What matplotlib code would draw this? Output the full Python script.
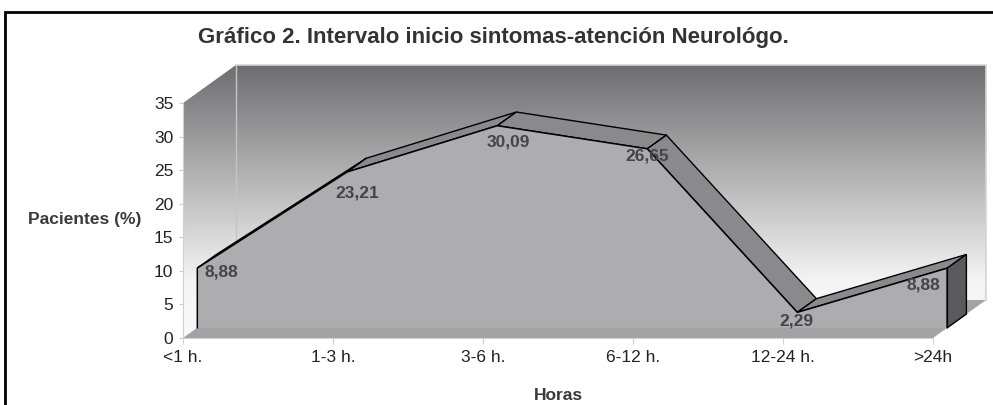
import numpy as np
import matplotlib.pyplot as plt
from matplotlib.patches import Polygon, Rectangle
from matplotlib.colors import LinearSegmentedColormap

# datos del gráfico
categorias = ['<1 h.', '1-3 h.', '3-6 h.', '6-12 h.', '12-24 h.', '>24h']
pacientes = [8.88, 23.21, 30.09, 26.65, 2.29, 8.88]
y_ticks = [0, 5, 10, 15, 20, 25, 30, 35]

# desplazamiento de las etiquetas respecto al punto (puntos tipográficos)
desp_etiquetas = [(17, -3), (7, -15), (8, -12), (0, -5), (-1, -6), (-17, -12)]

plt.rcParams['font.family'] = ['Liberation Sans', 'DejaVu Sans']

# profundidad de la perspectiva 3D en unidades de datos
DX = 53 / 150
DY = 38 * 35 / 235
F0, F1 = 0.27, 0.63   # cara frontal / trasera de la cinta

fig = plt.figure(figsize=(9.93, 4.05), dpi=100)
ax = fig.add_axes([183 / 993, 67 / 405, 750 / 993, 235 / 405])
n = len(categorias)
xs = np.arange(n)
xmax = n - 1
ymax = y_ticks[-1]
ax.set_xlim(0, xmax)
ax.set_ylim(0, ymax)
ax.set_facecolor('none')

# paredes con degradado
cmap = LinearSegmentedColormap.from_list(
    'pared', [(0, '#fafafa'), (0.21, '#f4f4f4'), (1, '#6e6e70')])
grad = np.linspace(0, 1, 256).reshape(-1, 1)
im = ax.imshow(grad, cmap=cmap, origin='lower', aspect='auto',
               extent=(0, xmax + DX, 0, ymax + DY), zorder=0)
paredes = Polygon([(0, 0), (0, ymax), (DX, ymax + DY), (xmax + DX, ymax + DY),
                   (xmax + DX, DY), (xmax, 0)], transform=ax.transData)
im.set_clip_path(paredes)
im.set_clip_box(fig.bbox)

ax.plot([DX, DX], [DY, ymax + DY], color='#c4c4c4', lw=1, clip_on=False, zorder=1)
ax.plot([DX, xmax + DX, xmax + DX], [ymax + DY, ymax + DY, DY],
        color='#d4d4d4', lw=1.2, clip_on=False, zorder=1)

# suelo
ax.add_patch(Polygon([(0, 0), (xmax, 0), (xmax + DX, DY), (DX, DY)],
                     fc='#a3a3a3', ec='none', clip_on=False, zorder=2))

# superficie superior de la cinta
for i in range(n - 1):
    quad = [(xs[i] + F0 * DX, pacientes[i] + F0 * DY),
            (xs[i + 1] + F0 * DX, pacientes[i + 1] + F0 * DY),
            (xs[i + 1] + F1 * DX, pacientes[i + 1] + F1 * DY),
            (xs[i] + F1 * DX, pacientes[i] + F1 * DY)]
    ax.add_patch(Polygon(quad, fc='#8a8a8c', ec='black', lw=1,
                         clip_on=False, zorder=3))

# cara frontal del área
fx = xs + F0 * DX
fy = np.array(pacientes) + F0 * DY
frente = [(fx[0], F0 * DY)] + list(zip(fx, fy)) + [(fx[-1], F0 * DY)]
ax.add_patch(Polygon(frente, fc='#adadb0', ec='none', clip_on=False, zorder=4))
ax.plot([fx[0]] + list(fx) + [fx[-1]], [F0 * DY] + list(fy) + [F0 * DY],
        color='black', lw=1.1, clip_on=False, zorder=5)

# cara lateral derecha
lado = [(xmax + F0 * DX, F0 * DY), (xmax + F0 * DX, pacientes[-1] + F0 * DY),
        (xmax + F1 * DX, pacientes[-1] + F1 * DY), (xmax + F1 * DX, F1 * DY)]
ax.add_patch(Polygon(lado, fc='#5b5b5d', ec='black', lw=1, clip_on=False, zorder=4))

# etiquetas de datos
for x, y, v, d in zip(fx, fy, pacientes, desp_etiquetas):
    ax.annotate(f'{v:.2f}'.replace('.', ','), xy=(x, y), xytext=d,
                textcoords='offset points', ha='center', va='center',
                fontsize=12.5, fontweight='bold', color='#454545',
                zorder=6, annotation_clip=False)

# ejes
for s in ['top', 'right']:
    ax.spines[s].set_visible(False)
ax.spines['left'].set_color('#d0d0d0')
ax.spines['bottom'].set_color('#d0d0d0')
ax.set_xticks(xs, categorias)
ax.set_yticks(y_ticks)
ax.tick_params(axis='y', length=3, color='#c8c8c8', pad=4, labelsize=12.5,
               labelcolor='#222222')
ax.tick_params(axis='x', length=4, color='#d0d0d0', pad=5, labelsize=12.5,
               labelcolor='#222222')

ax.set_xlabel('Horas', fontsize=12.5, fontweight='bold', color='#3a3a3a')
ax.xaxis.set_label_coords(0.5, -0.2426)
ax.xaxis.label.set_va('center')
ax.set_ylabel('Pacientes (%)', fontsize=12.5, fontweight='bold',
              color='#3a3a3a', rotation=0)
ax.yaxis.set_label_coords(-0.1307, 0.506)
ax.yaxis.label.set_va('center')
ax.yaxis.label.set_ha('center')

fig.text(0.497, 1 - 38 / 405, 'Gráfico 2. Intervalo inicio sintomas-atención Neurológo.',
         ha='center', va='center', fontsize=16, fontweight='bold', color='#333333')

# marco exterior
fig.add_artist(Rectangle((5 / 993, -0.05), 1.0, (405 - 12) / 405 + 0.05,
                         transform=fig.transFigure, fill=False, lw=2, ec='black'))

fig.savefig('out.png', dpi=100)
